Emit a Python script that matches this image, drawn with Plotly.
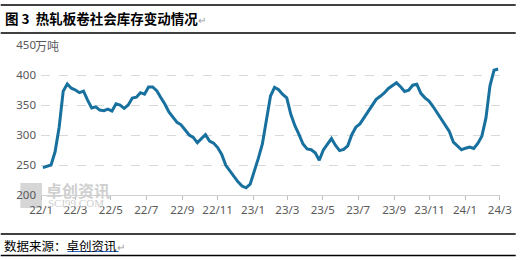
import pandas as pd
import plotly.graph_objects as go

# Weekly social inventory of hot-rolled coil (万吨), 2022-01 .. 2024-02
start_date = "2022-01-04"
inventory = [
    245.7, 248, 250, 272, 313, 373, 385, 378, 375, 370.5,
    373, 358, 345, 347, 341.5, 340.5, 343, 340, 352, 350,
    344.5, 350, 361.5, 363, 370.5, 368, 380, 380, 374, 362.5,
    351.7, 338.5, 329.5, 321, 317, 308.5, 300, 296, 287, 294,
    300.5, 290, 286.5, 279, 267.5, 249.5, 240, 231, 222, 215,
    212, 218, 238.5, 261, 285, 328, 365, 379.5, 375.5, 367.5,
    362, 334.5, 315.5, 301, 285, 276.7, 275.5, 270.5, 258, 275,
    284, 294, 282.5, 274, 276, 282, 300.5, 313, 318.5, 328.5,
    339, 348.5, 359.5, 364.5, 370, 377.5, 382, 387, 380.5, 372.5,
    374.5, 383, 384.5, 369.5, 362, 356.5, 347.5, 337, 327, 317,
    306, 288, 281, 275.4, 278, 280, 277.5, 286, 298, 328,
    382, 408, 410,
]
dates = pd.date_range(start_date, periods=len(inventory), freq="7D")

y_ticks = [200, 250, 300, 350, 400, 450]
y_ticktext = ["200", "250", "300", "350", "400", "450"]

title_text = "图 3  热轧板卷社会库存变动情况"
source_text = "数据来源：卓创资讯"
unit_text = "万吨"

LINE_COLOR = "#17709e"
LABEL_COLOR = "#595959"
FONT = "Noto Sans, Noto Sans CJK SC, sans-serif"
CJK = "Noto Sans CJK SC, sans-serif"

fig = go.Figure()
fig.add_trace(go.Scatter(
    x=dates, y=inventory, mode="lines",
    line=dict(color=LINE_COLOR, width=3),
    hoverinfo="skip", showlegend=False,
))

# pixel helpers for paper coords (plot area x:41..508, y:45..195)
def px(x):
    return (x - 41) / 467.0

def py(y):
    return (195 - y) / 150.0

shapes = []
for yy, w in [(5, 1.5), (33, 1.5), (234, 1.5), (255.5, 1.5)]:
    shapes.append(dict(type="line", xref="paper", yref="paper",
                       x0=px(0), x1=px(524), y0=py(yy), y1=py(yy),
                       line=dict(color="#000000", width=w)))
# underline of source link
shapes.append(dict(type="line", xref="paper", yref="paper",
                   x0=px(68), x1=px(120), y0=py(251.5), y1=py(251.5),
                   line=dict(color="#2b5fc0", width=1)))
# watermark logo block
shapes.append(dict(type="rect", xref="paper", yref="paper", layer="below",
                   x0=px(20), x1=px(42), y0=py(208), y1=py(183),
                   fillcolor="#d6d6d6", line=dict(width=0)))

annotations = [
    dict(text="<b>" + title_text + "</b><span style='color:#9a9a9a;font-size:10px'>↵</span>",
         xref="paper", yref="paper", x=px(2), y=py(18), xanchor="left", yanchor="middle",
         showarrow=False, font=dict(family=CJK, size=13.5, color="#000000")),
    dict(text=source_text + "<span style='color:#9a9a9a;font-size:10px'>↵</span>",
         xref="paper", yref="paper", x=px(1), y=py(245), xanchor="left", yanchor="middle",
         showarrow=False, font=dict(family=CJK, size=12.5, color="#000000")),
    dict(text=unit_text, xref="paper", yref="y", x=px(32.5), y=450,
         xanchor="left", yanchor="middle", showarrow=False,
         font=dict(family=CJK, size=12, color=LABEL_COLOR)),
    dict(text="<b>卓创资讯</b>", xref="paper", yref="paper", x=px(44), y=py(190),
         xanchor="left", yanchor="middle", showarrow=False,
         font=dict(family=CJK, size=16, color="#cfcfcf")),
    dict(text="SCI99.COM", xref="paper", yref="paper", x=px(46), y=py(203),
         xanchor="left", yanchor="middle", showarrow=False,
         font=dict(family="Liberation Serif, serif", size=11, color="#cfcfcf")),
]

fig.update_layout(
    width=524, height=260,
    margin=dict(l=41, r=16, t=45, b=65),
    paper_bgcolor="#ffffff", plot_bgcolor="#ffffff",
    font=dict(family=FONT, size=11.5, color=LABEL_COLOR),
    shapes=shapes, annotations=annotations,
    xaxis=dict(
        type="date",
        range=["2021-12-31 18:00", "2024-03-01 06:00"],
        tick0="2022-01-01", dtick="M2", tickformat="%y/%-m",
        ticks="outside", ticklen=4, tickcolor="#bfbfbf", tickwidth=1,
        showline=True, linecolor="#d0d0d0", linewidth=1,
        showgrid=False, zeroline=False, fixedrange=True,
        tickfont=dict(family=FONT, size=11.5, color=LABEL_COLOR),
    ),
    yaxis=dict(
        range=[200, 450], tickvals=y_ticks, ticktext=y_ticktext,
        showgrid=True, gridcolor="#d9d9d9", griddash="dash", gridwidth=1,
        showline=False, zeroline=False, ticks="", fixedrange=True,
        tickfont=dict(family=FONT, size=11.5, color=LABEL_COLOR),
        ticklabelstandoff=4,
    ),
)

fig.write_html("out.html")
